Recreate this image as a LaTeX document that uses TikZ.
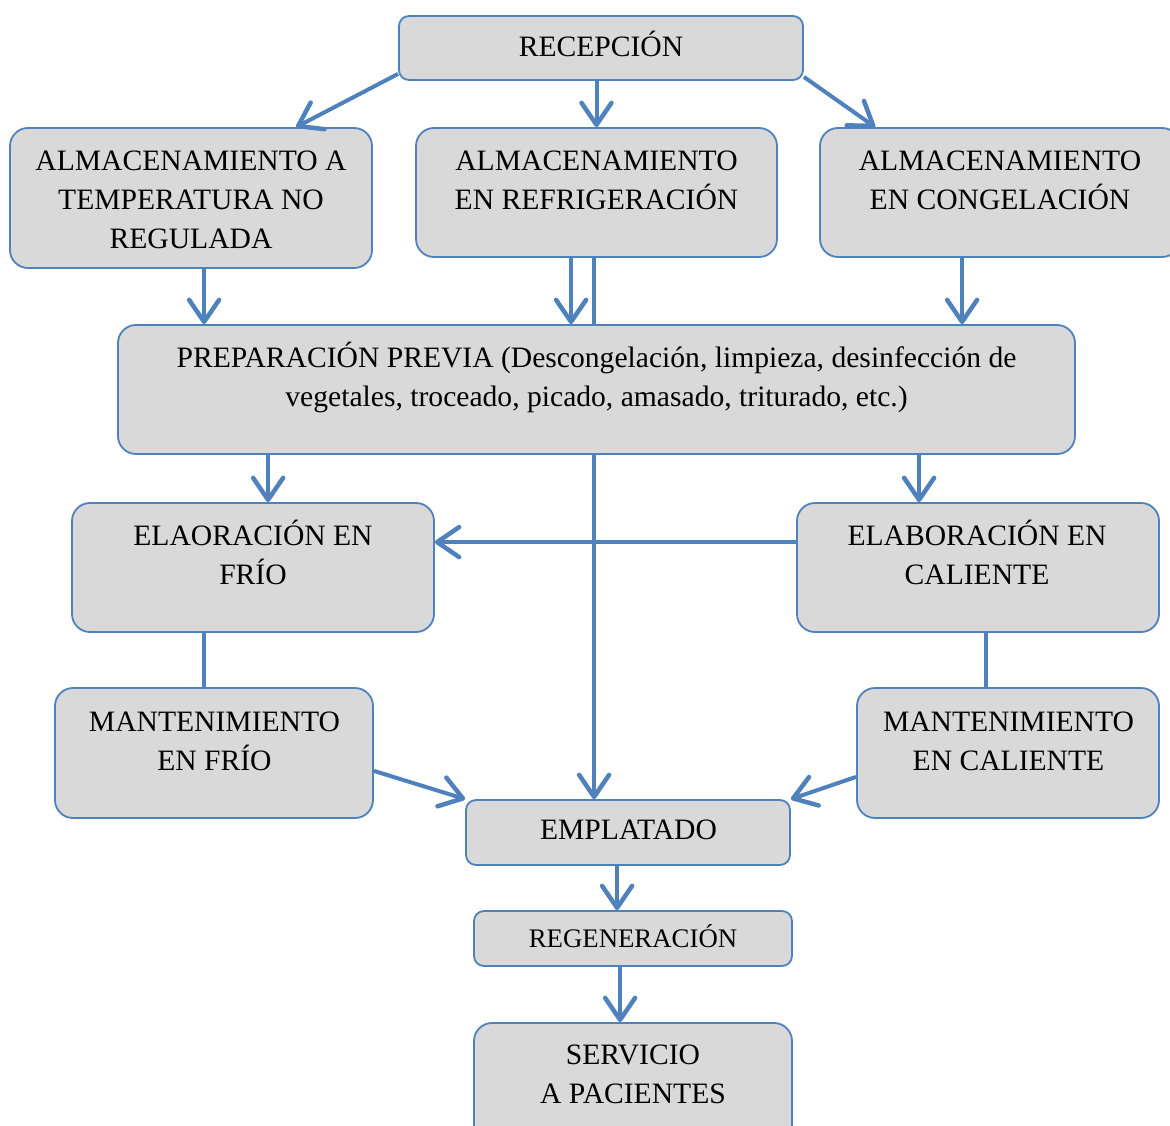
\documentclass[tikz,border=0pt]{standalone}
\usepackage{fontspec}
\setmainfont{Liberation Serif}
\usetikzlibrary{arrows.meta}
\definecolor{bl}{HTML}{4F81BD}
\definecolor{gr}{HTML}{D9D9D9}
\begin{document}
\begin{tikzpicture}[x=1pt,y=-1pt,
 box/.style={draw=bl, line width=1.8pt, fill=gr, rounded corners=18pt, inner sep=0pt},
 sbox/.style={box, rounded corners=10pt},
 txt/.style={font=\fontsize{29.6}{39}\selectfont, align=center, inner sep=0pt},
 stxt/.style={font=\fontsize{26.8}{39}\selectfont, align=center, inner sep=0pt},
 conn/.style={draw=bl, line width=4pt},
 arr/.style={conn, -{Straight Barb[length=22pt,width=30pt,line width=4.5pt,round]}}]
\useasboundingbox (0,0) rectangle (1170,1126);

% boxes
\node[sbox, minimum width=404pt, minimum height=64pt] (rec) at (601,48) {};
\node[box, minimum width=362pt, minimum height=140pt] (temp) at (191,198) {};
\node[box, minimum width=361pt, minimum height=129pt] (refr) at (596.5,192.5) {};
\node[box, minimum width=360pt, minimum height=129pt] (cong) at (1000,192.5) {};
\node[box, minimum width=957pt, minimum height=129pt] (prep) at (596.5,389.5) {};
\node[box, minimum width=362pt, minimum height=129pt] (frio) at (253,567.5) {};
\node[box, minimum width=362pt, minimum height=129pt] (cal) at (978,567.5) {};
\node[box, minimum width=318pt, minimum height=130pt] (mfrio) at (214,753) {};
\node[box, minimum width=302pt, minimum height=130pt] (mcal) at (1008,753) {};
\node[sbox, minimum width=324pt, minimum height=65pt] (empl) at (628,832.5) {};
\node[sbox, minimum width=318pt, minimum height=55pt] (regen) at (633,938.5) {};
\node[box, minimum width=318pt, minimum height=130pt] (serv) at (633,1088) {};

% texts
\node[txt] (rec-t) at (601,48.5) {RECEPCIÓN\strut};
\node[txt] (temp-t) at (191,201.5) {ALMACENAMIENTO A\strut\\TEMPERATURA NO\strut\\REGULADA\strut};
\node[txt] (refr-t) at (596.5,182) {ALMACENAMIENTO\strut\\EN REFRIGERACIÓN\strut};
\node[txt] (cong-t) at (1000,182) {ALMACENAMIENTO\strut\\EN CONGELACIÓN\strut};
\node[txt] (prep-t) at (596.5,379.5) {PREPARACIÓN PREVIA (Descongelación, limpieza, desinfección de\strut\\vegetales, troceado, picado, amasado, triturado, etc.)\strut};
\node[txt] (frio-t) at (253,557) {ELAORACIÓN EN\strut\\FRÍO\strut};
\node[txt] (cal-t) at (977,557) {ELABORACIÓN EN\strut\\CALIENTE\strut};
\node[txt] (mfrio-t) at (214.5,743.5) {MANTENIMIENTO\strut\\EN FRÍO\strut};
\node[txt] (mcal-t) at (1008.5,743.5) {MANTENIMIENTO\strut\\EN CALIENTE\strut};
\node[txt] (empl-t) at (628.5,831.5) {EMPLATADO\strut};
\node[stxt] (regen-t) at (633,940) {REGENERACIÓN\strut};
\node[txt] (serv-t) at (633,1076) {SERVICIO\strut\\A PACIENTES\strut};

% connectors
\draw[arr] ([yshift=7pt]rec.south west) -- ([xshift=287pt]temp.north west);
\draw[arr] (rec.south -| refr.north) -- (refr.north);
\draw[arr] ([yshift=4pt]rec.south east) -- ([xshift=56pt]cong.north west);

\draw[arr] ([xshift=195pt]temp.south west) coordinate (c1) -- (c1 |- prep.north);
\draw[arr] ([xshift=156pt]refr.south west) coordinate (c2) -- (c2 |- prep.north);
\draw[conn] ([xshift=179pt]refr.south west) coordinate (c3) -- (c3 |- prep.north);
\draw[arr] ([xshift=143pt]cong.south west) coordinate (c4) -- (c4 |- prep.north);

\draw[arr] ([xshift=151pt]prep.south west) coordinate (c5) -- (c5 |- frio.north);
\draw[arr] ([xshift=802pt]prep.south west) coordinate (c6) -- (c6 |- cal.north);
\draw[arr] ([xshift=477pt]prep.south west) coordinate (c7) -- (c7 |- empl.north);
\draw[arr] ([yshift=-40pt]cal.north west) coordinate (c8) -- (c8 -| frio.east);

\draw[conn] ([xshift=133pt]frio.south west) coordinate (c9) -- (c9 |- mfrio.north);
\draw[conn] ([xshift=190pt]cal.south west) coordinate (c10) -- (c10 |- mcal.north);

\draw[arr] ([yshift=48pt]mfrio.south east) -- (empl.north west);
\draw[arr] ([yshift=42pt]mcal.south west) -- (empl.north east);

\draw[arr] ([xshift=152pt]empl.south west) coordinate (c11) -- (c11 |- regen.north);
\draw[arr] ([xshift=147pt]regen.south west) coordinate (c12) -- (c12 |- serv.north);
\end{tikzpicture}
\end{document}
